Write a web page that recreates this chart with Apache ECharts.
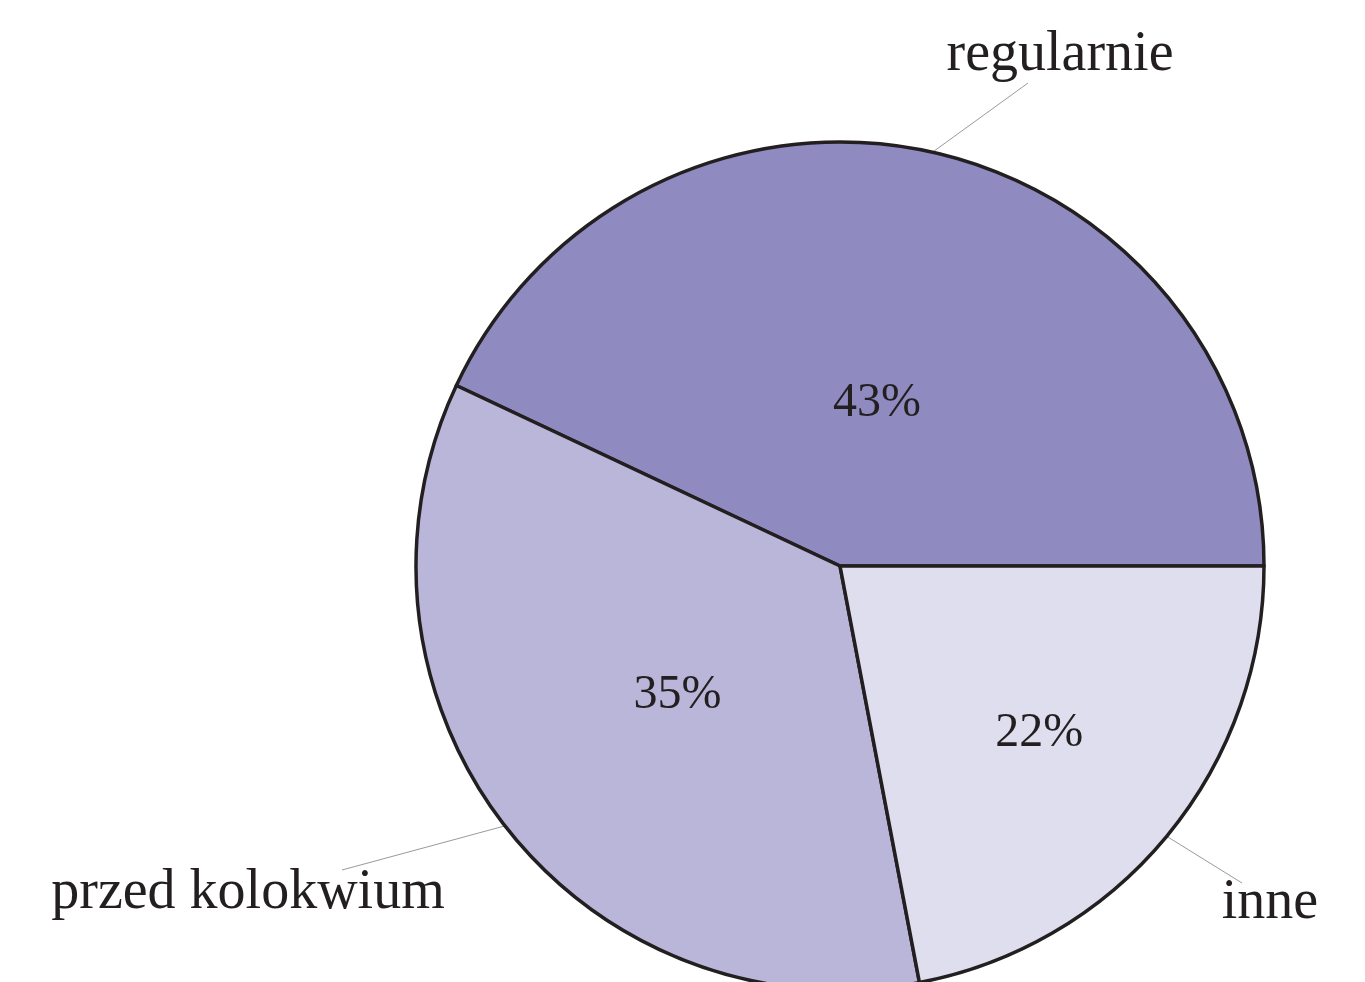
<!DOCTYPE html>
<html>
<head>
<meta charset="utf-8">
<script src="https://cdn.jsdelivr.net/npm/echarts@6/dist/echarts.min.js"></script>
<style>
  html, body { margin: 0; padding: 0; background: #fff; }
  #pie { width: 1365px; height: 982px; }
</style>
</head>
<body>
<div id="pie"></div>
<script>
// dane wykresu
const categories = ['regularnie', 'przed kolokwium', 'inne'];
const shares = [43, 35, 22];
const sliceColors = ['#8f8bc1', '#bab6da', '#dfdeef'];

// geometria kola
const cx = 840, cy = 566, R = 424;
const innerLabelFrac = [0.40, 0.485, 0.61];
// polozenie opisow zewnetrznych: srodek tekstu i koniec linii
const outerText = [[1060, 55], [248, 893], [1270, 903]];
const outerLineEnd = [[1028, 83], [342, 870], [1242, 883]];

const total = shares.reduce((a, b) => a + b, 0);
const midAngles = [];
let acc = 0;
shares.forEach(v => {
  midAngles.push((acc + v / 2) / total * Math.PI * 2);
  acc += v;
});
function onCircle(i, r) {
  return [cx + r * Math.cos(midAngles[i]), cy - r * Math.sin(midAngles[i])];
}

const data = categories.map((name, i) => ({ name: name, value: shares[i] }));
const font = 'Liberation Serif';

const pieOption = {
  animation: false,
  backgroundColor: '#ffffff',
  color: sliceColors,
  series: [
    {
      name: 'udzial',
      type: 'pie',
      center: [cx, cy],
      radius: R,
      startAngle: 0,
      clockwise: false,
      avoidLabelOverlap: false,
      silent: true,
      itemStyle: { borderColor: '#231f20', borderWidth: 3.5 },
      label: {
        show: true,
        position: 'inside',
        formatter: '{c}%',
        fontFamily: font,
        fontSize: 48,
        color: '#231f20'
      },
      labelLine: { show: false },
      labelLayout: function (p) {
        const pt = onCircle(p.dataIndex, innerLabelFrac[p.dataIndex] * R);
        return { x: pt[0], y: pt[1] + 3, align: 'center', verticalAlign: 'middle' };
      },
      data: data
    },
    {
      name: 'opisy',
      type: 'pie',
      center: [cx, cy],
      radius: R,
      startAngle: 0,
      clockwise: false,
      avoidLabelOverlap: false,
      silent: true,
      itemStyle: { color: 'rgba(0,0,0,0)', borderWidth: 0 },
      label: {
        show: true,
        position: 'outside',
        formatter: '{b}',
        fontFamily: font,
        fontSize: 56,
        color: '#231f20'
      },
      labelLine: {
        show: true,
        length: 20,
        length2: 20,
        lineStyle: { color: '#9a9a9a', width: 1 }
      },
      labelLayout: function (p) {
        const i = p.dataIndex;
        const start = onCircle(i, R);
        const end = outerLineEnd[i];
        return {
          x: outerText[i][0],
          y: outerText[i][1],
          align: 'center',
          verticalAlign: 'middle',
          labelLinePoints: [start, end, end]
        };
      },
      data: data
    }
  ]
};

const myChart = echarts.init(document.getElementById('pie'));
myChart.setOption(pieOption);
</script>
</body>
</html>
